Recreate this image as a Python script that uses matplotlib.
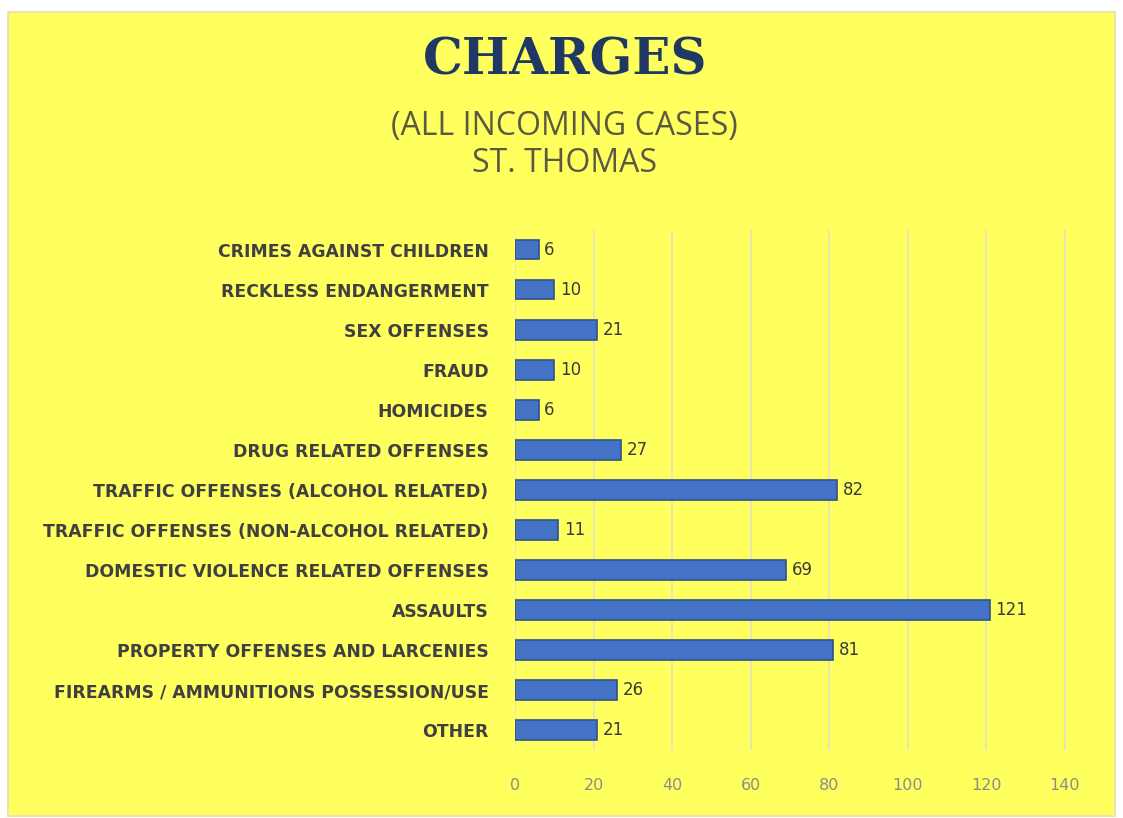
import matplotlib
matplotlib.use("Agg")
import matplotlib.pyplot as plt

# data, top to bottom as in the chart
categories = ['CRIMES AGAINST CHILDREN', 'RECKLESS ENDANGERMENT', 'SEX OFFENSES',
              'FRAUD', 'HOMICIDES', 'DRUG RELATED OFFENSES',
              'TRAFFIC OFFENSES (ALCOHOL RELATED)',
              'TRAFFIC OFFENSES (NON-ALCOHOL RELATED)',
              'DOMESTIC VIOLENCE RELATED OFFENSES', 'ASSAULTS',
              'PROPERTY OFFENSES AND LARCENIES',
              'FIREARMS / AMMUNITIONS POSSESSION/USE', 'OTHER']
values = [6, 10, 21, 10, 6, 27, 82, 11, 69, 121, 81, 26, 21]
xticks = [0, 20, 40, 60, 80, 100, 120, 140]

fig = plt.figure(figsize=(11.23, 8.18), dpi=100)
fig.patch.set_facecolor('white')

# yellow chart area with faint border, behind everything
bgax = fig.add_axes([0, 0, 1, 1], zorder=0)
bgax.axis('off')
bgax.add_patch(plt.Rectangle((0.007, 0.003), 0.986, 0.982, transform=bgax.transAxes,
                             facecolor='#FFFF5E', edgecolor='#E8E4B0', linewidth=1.5))

ax = fig.add_axes([0.4586, 0.083, 0.5, 0.636], zorder=1)
ax.set_facecolor('none')

ypos = list(range(len(categories)))
ax.barh(ypos, values, height=0.48, color='#4472C4', edgecolor='#2F528F',
        linewidth=1.2, zorder=3)
for y, v in zip(ypos, values):
    ax.text(v + 1.4, y, str(v), va='center', ha='left', fontsize=12,
            color='#3A3A3A')

ax.set_ylim(len(categories) - 0.5, -0.5)
ax.set_xlim(0, 143)
ax.set_xticks(xticks)
ax.set_yticks(ypos)
ax.set_yticklabels(categories, fontweight='bold', fontsize=12.4, color='#404040')
ax.tick_params(axis='y', length=0, pad=19)
ax.tick_params(axis='x', length=0, pad=20, labelsize=11.5, labelcolor='#8C8C8C')
ax.grid(axis='x', color='#E4E2C0', linewidth=1.2, zorder=0)
for s in ax.spines.values():
    s.set_visible(False)

fig.text(0.503, 0.925, 'CHARGES', ha='center', va='center', fontsize=36,
         fontweight='heavy', family='DejaVu Serif', color='#1F3864')
fig.text(0.503, 0.845, '(ALL INCOMING CASES)', ha='center', va='center',
         fontsize=23, family='Open Sans', color='#5A5A40')
fig.text(0.503, 0.800, 'ST. THOMAS', ha='center', va='center',
         fontsize=23, family='Open Sans', color='#5A5A40')

fig.savefig('out.png', dpi=100, facecolor=fig.get_facecolor())
